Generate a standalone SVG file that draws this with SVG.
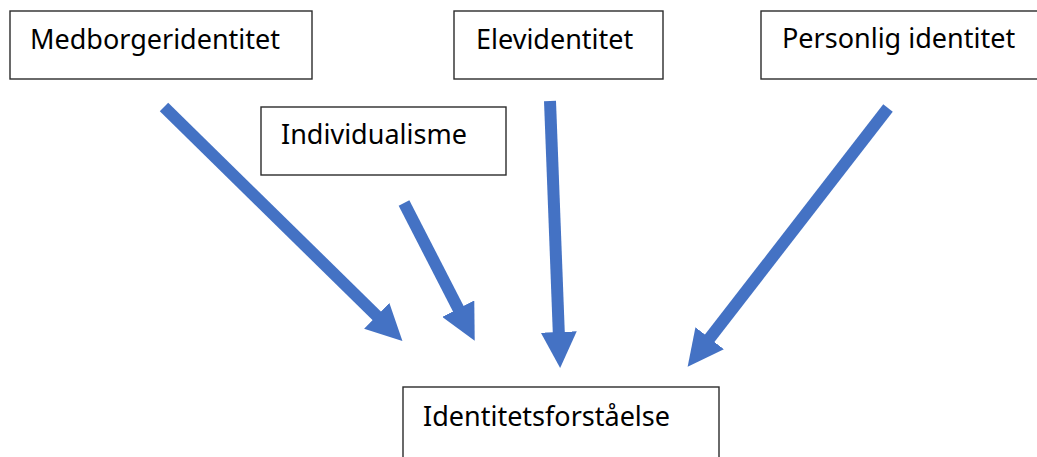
<svg xmlns="http://www.w3.org/2000/svg" width="1037" height="457" viewBox="0 0 1037 457">
<defs>
<style>
.box{fill:#fff;stroke:#2b2b2b;stroke-width:1.4}
.lbl{font-family:"Noto Sans","Open Sans","Liberation Sans",sans-serif;font-size:27px;fill:#000}
.arr{stroke:#4472C4;stroke-width:12;fill:none;marker-end:url(#ah)}
</style>
<marker id="ah" markerUnits="userSpaceOnUse" markerWidth="36" markerHeight="36" refX="6" refY="18" orient="auto" viewBox="0 0 36 36">
<path d="M0,0 L36,18 L0,36 z" fill="#4472C4"/>
</marker>
</defs>
<rect width="1037" height="457" fill="#fff"/>
<g id="n-medborger"><rect class="box" x="10" y="11" width="302" height="68"/><text class="lbl" x="30" y="49">Medborgeridentitet</text></g>
<g id="n-elev"><rect class="box" x="454" y="11" width="209" height="68"/><text class="lbl" x="476" y="49">Elevidentitet</text></g>
<g id="n-personlig"><rect class="box" x="761" y="11" width="290" height="68"/><text class="lbl" x="782" y="48">Personlig identitet</text></g>
<g id="n-individualisme"><rect class="box" x="261" y="107" width="245" height="68"/><text class="lbl" x="281" y="144">Individualisme</text></g>
<g id="n-identitetsforstaaelse"><rect class="box" x="403" y="387" width="316" height="90"/><text class="lbl" x="423" y="426">Identitetsforståelse</text></g>
<g id="connectors">
<line class="arr" x1="164" y1="107" x2="381" y2="320"/>
<line class="arr" x1="404" y1="203" x2="461" y2="314"/>
<line class="arr" x1="550" y1="101" x2="559" y2="338"/>
<line class="arr" x1="888" y1="108" x2="706" y2="343"/>
</g>
</svg>
